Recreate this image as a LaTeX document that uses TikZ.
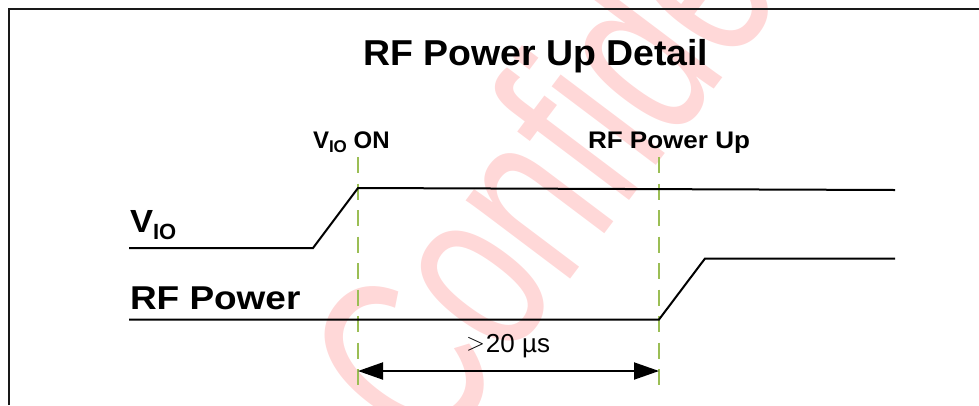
\documentclass[tikz,border=0pt]{standalone}
\usepackage{fontspec}
\setmainfont{Liberation Sans}
\usepackage{graphicx}
\usetikzlibrary{arrows.meta}
\definecolor{wmred}{RGB}{255,216,216}
\definecolor{guidegreen}{RGB}{155,190,85}
\begin{document}
\begin{tikzpicture}[x=1pt,y=-1pt,
  lbl/.style={inner sep=0pt, outer sep=0pt, anchor=base west},
  signal/.style={line width=2pt, line join=miter, draw=black},
  guide/.style={line width=2pt, draw=guidegreen, dash pattern=on 16pt off 10.5pt},
  dimline/.style={line width=2pt, {Triangle[length=25pt,width=17pt]}-{Triangle[length=25pt,width=17pt]}},
  framebox/.style={line width=2.3pt, draw=black!90}]
\useasboundingbox (0,0) rectangle (979,405);
% watermark
\begin{scope}
  \clip (0,0) rectangle (979,405);
  \node[lbl, rotate=53, text=wmred, font=\fontsize{183}{183}\selectfont] (wm) at (433,462) {\scalebox{0.93}[1.35]{Confidential}};
\end{scope}
% frame
\coordinate (f1) at (9,405);
\coordinate (f2) at (9,9);
\coordinate (f3) at (979,9);
\draw[framebox] (f1) -- (f2) -- (f3);
% guides
\coordinate (g1t) at (358,157);
\coordinate (g1b) at (358,385);
\coordinate (g2t) at (659,157);
\coordinate (g2b) at (659,385);
\draw[guide] (g1t) -- (g1b);
\draw[guide] (g2t) -- (g2b);
% VIO signal
\coordinate (v0) at (129,248);
\coordinate (v1) at (313,248);
\coordinate (v2) at (358,188);
\coordinate (v3) at (895,190);
\draw[signal] (v0) -- (v1) -- (v2) -- (v3);
% RF signal
\coordinate (r0) at (129,319.5);
\coordinate (r1) at (659,319.5);
\coordinate (r2) at (705,258.5);
\coordinate (r3) at (895,258.5);
\draw[signal] (r0) -- (r1) -- (r2) -- (r3);
% dimension arrow
\coordinate (a1) at (358,371);
\coordinate (a2) at (659,371);
\draw[dimline] (a1) -- (a2);
% texts
\node[lbl, font=\fontsize{36}{40}\selectfont\bfseries] (title) at (363,65) {\scalebox{1.04}[1]{RF Power Up Detail}};
\node[lbl, font=\fontsize{24}{26}\selectfont\bfseries] (vioon) at (313,148) {V\raisebox{-4.5pt}{\fontsize{17}{17}\selectfont IO} ON};
\node[lbl, font=\fontsize{24}{26}\selectfont\bfseries] (rfup) at (588,148) {\scalebox{1.085}[1]{RF Power Up}};
\node[lbl, font=\fontsize{32}{34}\selectfont\bfseries] (vio) at (130,232) {\scalebox{1.08}[1]{V}\raisebox{-7pt}{\fontsize{22}{22}\selectfont IO}};
\node[lbl, font=\fontsize{33}{35}\selectfont\bfseries] (rfp) at (130,309) {\scalebox{1.12}[1]{RF Power}};
\node[lbl, font=\fontsize{26}{28}\selectfont] (dt) at (466,352) {\raisebox{1.5pt}{\fontsize{30}{30}\selectfont$>$}\kern1pt 20 µs};
\end{tikzpicture}
\end{document}
